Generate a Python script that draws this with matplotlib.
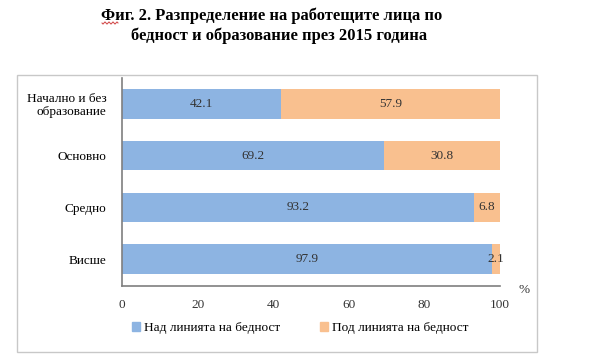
import numpy as np
import matplotlib.pyplot as plt
from matplotlib.patches import Rectangle, Patch
from matplotlib.lines import Line2D

categories = ["Начално и без\nобразование", "Основно", "Средно", "Висше"]
above = [42.1, 69.2, 93.2, 97.9]
below = [57.9, 30.8, 6.8, 2.1]
xticks = [0, 20, 40, 60, 80, 100]

blue = "#8DB4E2"
orange = "#F9C08F"
W, H = 600, 359

plt.rcParams['font.family'] = ['Liberation Serif', 'DejaVu Serif']

fig = plt.figure(figsize=(6, 3.59), dpi=100)
fig.patches.append(Rectangle((17/W, 1-352/H), 520/W, 277/H,
                             transform=fig.transFigure, fill=False,
                             edgecolor="#c8c8c8", linewidth=1))

ax = fig.add_axes([122/W, 1-286/H, 378/W, 208/H])
y = np.arange(len(categories))[::-1]
ax.barh(y, above, height=0.57, color=blue, label="Над линията на бедност")
ax.barh(y, below, left=above, height=0.57, color=orange, label="Под линията на бедност")

for yi, a, b in zip(y, above, below):
    ax.text(a/2, yi, f"{a}", ha="center", va="center", fontsize=9.5, color="#333333")
    ax.text(a + b/2, yi, f"{b}", ha="center", va="center", fontsize=9.5, color="#333333")

ax.set_xlim(0, 100)
ax.set_ylim(-0.52, 3.5)
ax.set_yticks(y)
ax.set_yticklabels(categories, fontsize=9.5, linespacing=1.1)
ax.set_xticks(xticks)
ax.set_xticklabels([str(t) for t in xticks], fontsize=9.5, color="#333333")
ax.tick_params(length=0, pad=9)
ax.tick_params(axis='y', pad=11)
for s in ["top", "right"]:
    ax.spines[s].set_visible(False)
ax.spines["left"].set_color("#7f7f7f")
ax.spines["bottom"].set_color("#7f7f7f")
ax.spines["left"].set_linewidth(1.2)
ax.spines["bottom"].set_linewidth(1.2)

fig.text(524/W, 1-290/H, "%", fontsize=9.5, ha="center", va="center", color="#333333")

fig.text(272/W, 1-16/H, "Фиг. 2. Разпределение на работещите лица по", ha="center", va="center",
         fontsize=11.9, fontweight="bold")
fig.text(279/W, 1-36/H, "бедност и образование през 2015 година", ha="center", va="center",
         fontsize=11.9, fontweight="bold")

# spell-check squiggle under "Фиг,"
sx = np.linspace(102, 118, 40)
sy = 23 + 1.0*np.sin((sx - 102) * np.pi / 2)
fig.lines.append(Line2D(sx/W, 1 - sy/H, transform=fig.transFigure, color="#d04040", linewidth=0.7))

handles = [Patch(color=blue, label="Над линията на бедност"),
           Patch(color=orange, label="Под линията на бедност")]
fig.legend(handles=handles, loc="center", bbox_to_anchor=(0.5, 1-328/H), ncol=2,
           frameon=False, fontsize=9.5, handlelength=0.6, handleheight=0.6,
           handletextpad=0.3, columnspacing=3)

fig.savefig("out.png", dpi=100)
